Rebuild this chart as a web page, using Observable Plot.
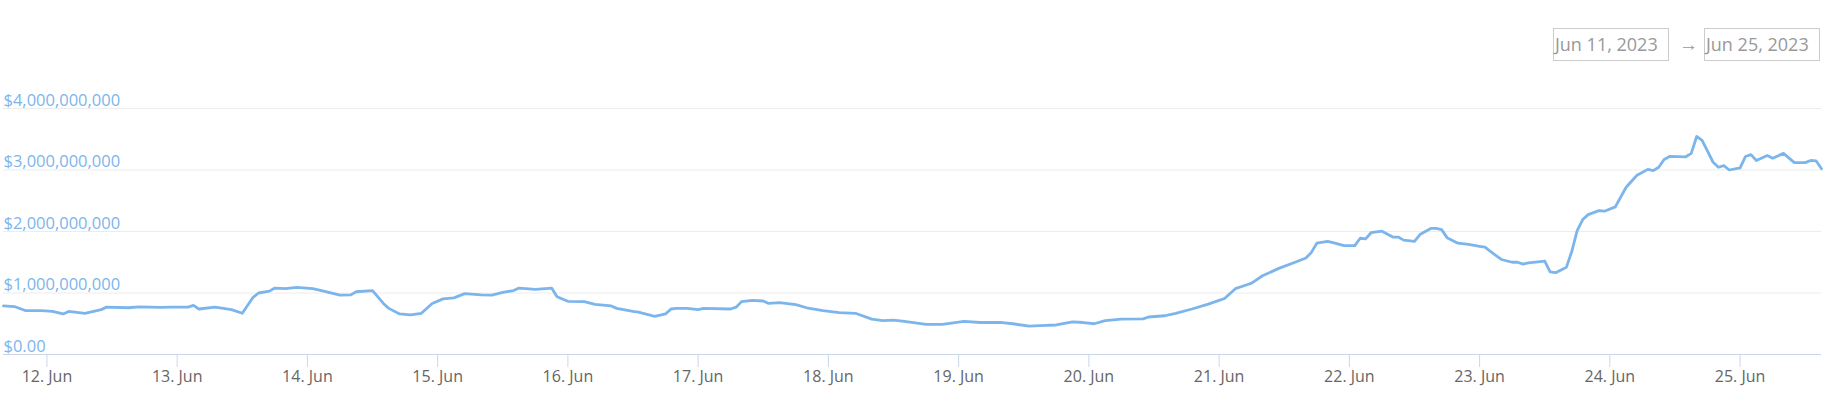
<!DOCTYPE html>
<html>
<head>
<meta charset="utf-8">
<script src="https://cdn.jsdelivr.net/npm/d3@7"></script>
<script src="https://cdn.jsdelivr.net/npm/@observablehq/plot@0.6"></script>
<style>
  html, body { margin: 0; padding: 0; background: #fff; }
  body { width: 1831px; height: 411px; overflow: hidden; font-family: "Open Sans", sans-serif; }
  #header { position: relative; height: 60px; }
  .box { position: absolute; top: 28px; height: 31px; width: 113px; border: 1px solid #cccccc;
         color: #999999; font-size: 18px; line-height: 31px; padding-left: 1px; box-sizing: content-box; white-space: nowrap; }
  .arrow { position: absolute; top: 28px; line-height: 33px; color: #999999; font-size: 19px; }
  #chart svg { display: block; }
</style>
</head>
<body>
<div id="header"></div>
<div id="chart"></div>
<script>
// Date range shown in the selector
const rangeStart = "Jun 11, 2023";
const rangeEnd = "Jun 25, 2023";

// Hours relative to 2023-06-12 00:00 UTC
const hours = [
  -8, -6, -4, -1, 1, 3, 4, 7, 10, 11, 15, 17, 21, 23, 26, 27, 28, 31, 34, 36,
  38, 39, 41, 42, 44, 46, 49, 51, 54, 56, 57, 60, 62, 63, 65, 67, 69, 71, 73, 75,
  77, 80, 82, 84, 86, 87, 90, 93, 94, 96, 99, 101, 104, 105, 108, 109, 112, 114, 115, 116,
  118, 120, 121, 126, 127, 128, 130, 132, 133, 135, 138, 140, 143, 146, 149, 152, 154, 156, 158, 160,
  162, 165, 167, 169, 172, 176, 178, 181, 183, 186, 189, 191, 193, 195, 198, 202, 203, 206, 208, 211,
  214, 216, 217, 219, 221, 222, 224, 227, 230, 232, 233, 234, 236, 237, 239, 241, 242, 243, 244, 246,
  248, 249, 250, 252, 253, 255, 256, 257, 258, 260, 262, 264, 265, 266, 268, 270, 271, 272, 273, 276,
  277, 278, 280, 281, 282, 283, 284, 286, 287, 289, 291, 293, 295, 296, 297, 298, 299, 302, 303, 304,
  305, 307, 308, 309, 310, 312, 313, 314, 315, 317, 318, 320, 322, 324, 325, 326, 327
];
// Values in billions of USD
const valuesB = [
  0.79, 0.78, 0.715, 0.715, 0.70, 0.66, 0.70, 0.67, 0.73, 0.77, 0.76, 0.775, 0.765, 0.77, 0.77, 0.80, 0.74, 0.77, 0.73, 0.67,
  0.93, 1.00, 1.03, 1.08, 1.07, 1.09, 1.07, 1.03, 0.965, 0.97, 1.02, 1.04, 0.83, 0.75, 0.66, 0.645, 0.67, 0.83, 0.905, 0.92,
  0.99, 0.97, 0.965, 1.01, 1.04, 1.08, 1.06, 1.08, 0.94, 0.865, 0.86, 0.815, 0.79, 0.75, 0.70, 0.69, 0.62, 0.66, 0.74, 0.75,
  0.75, 0.73, 0.75, 0.74, 0.77, 0.86, 0.88, 0.87, 0.83, 0.845, 0.81, 0.76, 0.715, 0.68, 0.67, 0.575, 0.55, 0.56, 0.54, 0.515,
  0.49, 0.49, 0.515, 0.54, 0.52, 0.52, 0.50, 0.46, 0.47, 0.48, 0.53, 0.52, 0.50, 0.55, 0.575, 0.58, 0.61, 0.63, 0.67, 0.74,
  0.82, 0.88, 0.91, 1.07, 1.13, 1.16, 1.28, 1.40, 1.50, 1.57, 1.66, 1.81, 1.84, 1.82, 1.77, 1.77, 1.89, 1.88, 1.98, 2.005,
  1.91, 1.91, 1.86, 1.84, 1.95, 2.05, 2.05, 2.03, 1.90, 1.81, 1.79, 1.76, 1.745, 1.675, 1.545, 1.50, 1.50, 1.47, 1.49, 1.52,
  1.345, 1.33, 1.42, 1.68, 2.02, 2.195, 2.275, 2.34, 2.33, 2.40, 2.72, 2.915, 3.01, 2.99, 3.045, 3.17, 3.22, 3.215, 3.27, 3.545,
  3.48, 3.13, 3.045, 3.07, 3.00, 3.035, 3.22, 3.25, 3.155, 3.235, 3.19, 3.27, 3.12, 3.12, 3.155, 3.15, 3.02
];

const yTicks = [0, 1e9, 2e9, 3e9, 4e9];
const yTickLabels = ["$0.00", "$1,000,000,000", "$2,000,000,000", "$3,000,000,000", "$4,000,000,000"];

const base = Date.UTC(2023, 5, 12);
const data = hours.map((h, i) => ({ t: new Date(base + h * 3600e3), v: valuesB[i] * 1e9 }));

// header (date range selector)
const header = document.getElementById("header");
header.innerHTML = `<div class="box" style="left:1553px">${rangeStart}</div>
<div class="arrow" style="left:1679px">→</div>
<div class="box" style="left:1704px">${rangeEnd}</div>`;

const labelMap = new Map(yTicks.map((t, i) => [t, yTickLabels[i]]));

const chart = Plot.plot({
  width: 1831,
  height: 351,
  marginLeft: 3,
  marginRight: 10,
  marginTop: 48,
  marginBottom: 57,
  style: { fontFamily: "Open Sans, sans-serif", background: "#fff", overflow: "visible" },
  x: { type: "utc", domain: [data[0].t, data[data.length - 1].t] },
  y: { domain: [0, 4e9] },
  marks: [
    Plot.gridY(yTicks, { stroke: "#ececec", strokeOpacity: 1 }),
    Plot.line(data, { x: "t", y: "v", stroke: "#7cb5ec", strokeWidth: 2.8, curve: "linear", strokeLinejoin: "round" }),
    Plot.ruleY([0], { stroke: "#ccd6eb", strokeWidth: 1 }),
    Plot.axisX({
      ticks: d3.utcDay.every(1),
      tickFormat: d3.utcFormat("%-d. %b"),
      tickSize: 13,
      tickPadding: 3,
      stroke: "#ccd6eb",
      fill: "#666666",
      fontSize: 16,
      label: null
    }),
    Plot.axisY(yTicks, {
      tickSize: 0,
      tickPadding: 0,
      textAnchor: "start",
      dy: -8,
      tickFormat: d => labelMap.get(d),
      fill: "#7cb5ec",
      fontSize: 16.5,
      label: null
    })
  ]
});
document.getElementById("chart").appendChild(chart);
</script>
</body>
</html>
